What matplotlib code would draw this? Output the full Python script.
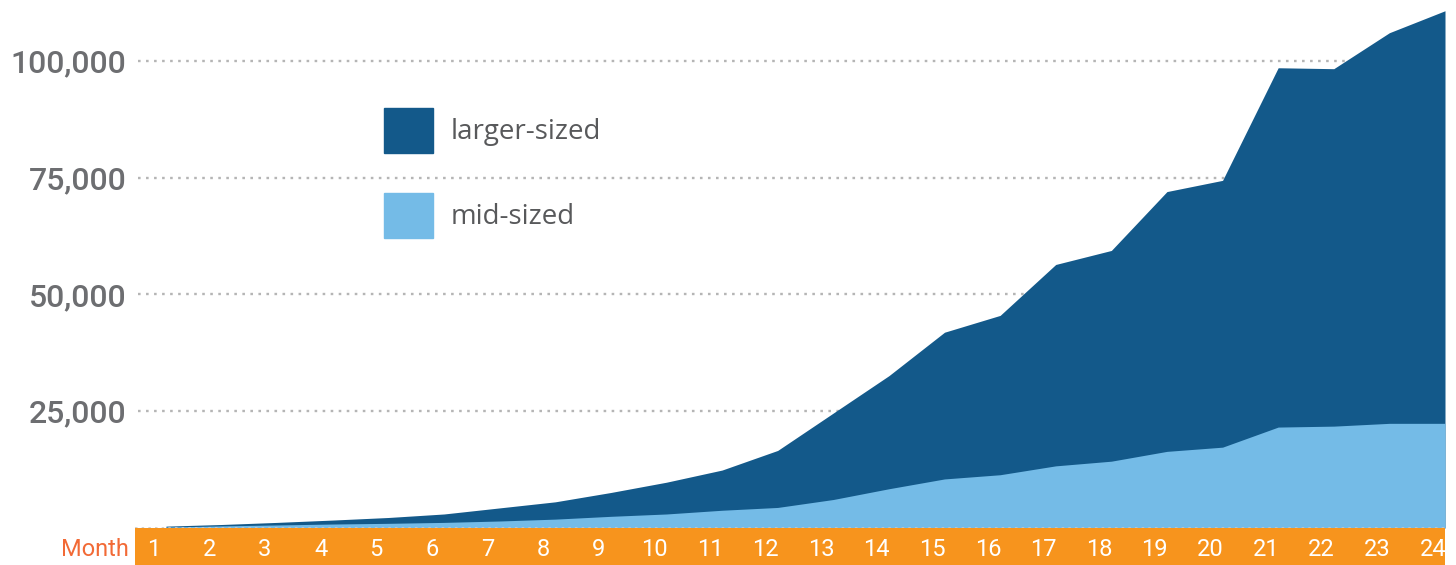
import numpy as np
import matplotlib.pyplot as plt

months = [str(m) for m in range(1, 25)]
# cumulative top of each layer
mid_sized = [200, 450, 650, 850, 1000, 1200, 1500, 1900, 2500, 3000, 3800, 4400,
             6100, 8400, 10500, 11400, 13300, 14300, 16400, 17300, 21600, 21800,
             22400, 22400]
total = [400, 750, 1200, 1700, 2250, 3000, 4300, 5600, 7600, 9800, 12400, 16600,
         24600, 32600, 41900, 45500, 56400, 59400, 72000, 74400, 98500, 98300,
         106000, 110700]
yticks = [25000, 50000, 75000, 100000]
ytick_labels = ['25,000', '50,000', '75,000', '100,000']
legend_labels = ['larger-sized', 'mid-sized']

dark_blue = '#13598a'
light_blue = '#74bbe7'
orange = '#f7941d'
month_red = '#f26a36'
grey_text = '#6d6e71'

W, H = 1456, 565
fig = plt.figure(figsize=(W / 100, H / 100), dpi=100)

x = np.arange(len(months))
left, right, base = 135, 1445, 528

ax = fig.add_axes([left / W, (H - base) / H, (right - left) / W, base / H])
ax.set_xlim(-0.557, len(months) - 1)
ax.set_ylim(0, 113000)

ax.fill_between(x, 0, total, color=dark_blue, lw=0, zorder=2)
ax.fill_between(x, 0, mid_sized, color=light_blue, lw=0, zorder=3)

for y in yticks:
    ax.axhline(y, xmin=0.002, color='#b5b5b5', lw=1.7, ls=(0, (1.1, 2.3)), zorder=1)
ax.axhline(0, color='#c8c8c8', lw=1.2, ls=(0, (1.5, 2.5)), zorder=4)

ax.set_yticks(yticks)
ax.set_yticklabels(ytick_labels, fontsize=23, color=grey_text, family='Roboto',
                   fontweight='medium')
ax.tick_params(axis='y', length=0, pad=6)
ax.set_xticks([])
for s in ax.spines.values():
    s.set_visible(False)

# legend drawn by hand
lx, lw_, lh = 384, 49, 45
for i, (lab, col) in enumerate(zip(legend_labels, [dark_blue, light_blue])):
    top = 108 + i * 85
    fig.patches.append(plt.Rectangle((lx / W, 1 - (top + lh) / H), lw_ / W, lh / H,
                                     transform=fig.transFigure, color=col))
    fig.text(451 / W, 1 - (top + lh / 2 + 1) / H, lab, fontsize=20, color='#58595b',
             family='Open Sans', va='center', ha='left')

# orange month band
band = fig.add_axes([left / W, 0, (right - left) / W, (H - base) / H])
band.set_facecolor(orange)
band.set_xlim(ax.get_xlim())
band.set_ylim(0, 1)
band.set_xticks([])
band.set_yticks([])
for s in band.spines.values():
    s.set_visible(False)
for xi, m in zip(x, months):
    band.text(xi - 0.22, 0.42, m, color='white', fontsize=17, family='Roboto',
              ha='center', va='center')
fig.text(95 / W, 1 - 550 / H, 'Month', color=month_red, fontsize=17, family='Roboto',
         ha='center', va='center')

fig.savefig('out.png', dpi=100)
